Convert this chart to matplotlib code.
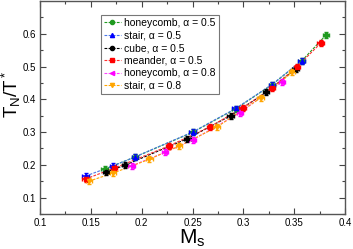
import matplotlib
matplotlib.use("Agg")
import matplotlib.pyplot as plt

plt.rcParams['font.family'] = ['Liberation Sans', 'DejaVu Sans']
plt.rcParams['mathtext.fontset'] = 'custom'
plt.rcParams['mathtext.rm'] = 'Liberation Sans'
plt.rcParams['mathtext.it'] = 'Liberation Sans'
plt.rcParams['mathtext.default'] = 'regular'

labels = ["honeycomb, α = 0.5", "stair, α = 0.5", "cube, α = 0.5",
          "meander, α = 0.5", "honeycomb, α = 0.8", "stair, α = 0.8"]
colors = ["#1f9a1f", "#0000ff", "#000000", "#ff0000", "#ff00ff", "#ffa500"]
line_colors = ["#1f9a1f", "#4a78e8", "#000000", "#ff3030", "#ff40ff", "#ffa500"]
markers = ["o", "^", "o", "s", "<", "v"]

honey05_x = [0.1635, 0.1935, 0.250, 0.2925, 0.328, 0.3574, 0.3813]
honey05_y = [0.187, 0.224, 0.299, 0.371, 0.444, 0.517, 0.596]
stair05_x = [0.145, 0.172, 0.1935, 0.250, 0.2925, 0.328, 0.3574]
stair05_y = [0.166, 0.197, 0.2245, 0.300, 0.372, 0.445, 0.518]
cube05_x = [0.165, 0.1836, 0.245, 0.2875, 0.3223, 0.3515]
cube05_y = [0.178, 0.199, 0.280, 0.350, 0.421, 0.493]
meander05_x = [0.145, 0.173, 0.227, 0.267, 0.2994, 0.328, 0.353, 0.376]
meander05_y = [0.157, 0.190, 0.258, 0.316, 0.374, 0.434, 0.500, 0.571]
honey08_x = [0.190, 0.223, 0.250, 0.2967, 0.338]
honey08_y = [0.197, 0.238, 0.276, 0.359, 0.454]
stair08_x = [0.148, 0.172, 0.2075, 0.2367, 0.2738, 0.317, 0.348]
stair08_y = [0.150, 0.175, 0.217, 0.257, 0.315, 0.404, 0.482]

x_ticks = [0.1, 0.15, 0.2, 0.25, 0.3, 0.35, 0.4]
x_ticklabels = ["0.1", "0.15", "0.2", "0.25", "0.3", "0.35", "0.4"]
y_ticks = [0.1, 0.2, 0.3, 0.4, 0.5, 0.6]
y_ticklabels = ["0.1", "0.2", "0.3", "0.4", "0.5", "0.6"]

xs = [honey05_x, stair05_x, cube05_x, meander05_x, honey08_x, stair08_x]
ys = [honey05_y, stair05_y, cube05_y, meander05_y, honey08_y, stair08_y]

fig = plt.figure(figsize=(3.53, 2.49), dpi=100)
ax = fig.add_axes([40/353, 1 - 214/249, 305/353, 213/249])

for x, y, c, lc, m, lab in zip(xs, ys, colors, line_colors, markers, labels):
    ax.plot(x, y, linestyle=(0, (2.5, 1.2)), color=lc, lw=0.8, zorder=2)
    ax.errorbar(x, y, xerr=0.0032, yerr=0.009, fmt='none', ecolor=c,
                elinewidth=1.2, capsize=1.2, capthick=1.0, zorder=3)
    ax.plot(x, y, linestyle='none', marker=m, color=c, ms=3, zorder=4)
    ax.plot([], [], linestyle=(0, (2.5, 1.2)), color=lc, lw=0.8,
            marker=m, ms=3, mfc=c, mec=c, label=lab)

ax.set_xlim(0.1, 0.4)
ax.set_ylim(0.05, 0.7)
ax.set_xticks(x_ticks)
ax.set_xticklabels(x_ticklabels)
ax.set_xticks([0.125, 0.175, 0.225, 0.275, 0.325, 0.375], minor=True)
ax.set_yticks(y_ticks)
ax.set_yticklabels(y_ticklabels)
ax.set_yticks([0.05, 0.15, 0.25, 0.35, 0.45, 0.55, 0.65], minor=True)
ax.tick_params(which='both', direction='in', top=True, right=True,
               labelsize=7, color='#444444', width=0.8)
ax.tick_params(which='major', length=4, pad=3)
ax.tick_params(which='minor', length=2)
for s in ax.spines.values():
    s.set_color('#555555')
    s.set_linewidth(1.0)

ax.set_xlabel('$M_s$', fontsize=15, labelpad=0)
ax.set_ylabel('$T_N/T^*$', fontsize=13.5)
ax.yaxis.set_label_coords(-0.057, 0.56)

leg = ax.legend(loc='upper left', bbox_to_anchor=(0.2, 0.935), fontsize=7.5,
                frameon=True, fancybox=False, edgecolor='#555555',
                handlelength=1.6, handletextpad=0.3, labelspacing=0.25,
                borderpad=0.3, borderaxespad=0)
leg.get_frame().set_linewidth(0.8)

fig.savefig("out.png", dpi=100)
